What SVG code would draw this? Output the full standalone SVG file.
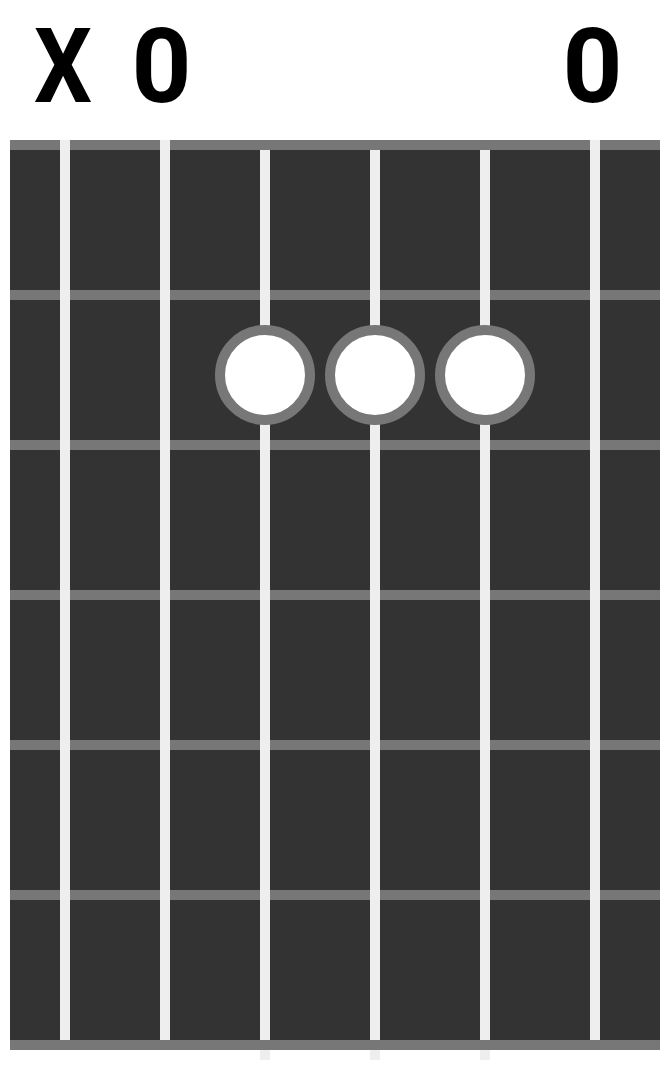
<svg xmlns="http://www.w3.org/2000/svg" width="670" height="1070" viewBox="0 0 670 1070">
<style>
.fret{fill:#777}
.str{fill:#eee}
.dot{fill:#fff;stroke:#777;stroke-width:10}
.lbl{font-family:Roboto,sans-serif;font-weight:bold;font-size:104px;fill:#000;text-anchor:middle}
</style>
<rect width="670" height="1070" fill="#fff"/>
<g id="board">
<rect x="10" y="140" width="650" height="910" fill="#333"/>
</g>
<g id="frets">
<rect class="fret" x="10" y="140" width="650" height="10"/>
<rect class="fret" x="10" y="290" width="650" height="10"/>
<rect class="fret" x="10" y="440" width="650" height="10"/>
<rect class="fret" x="10" y="590" width="650" height="10"/>
<rect class="fret" x="10" y="740" width="650" height="10"/>
<rect class="fret" x="10" y="890" width="650" height="10"/>
</g>
<g id="strings">
<rect class="str" x="60" y="140" width="10" height="900"/>
<rect class="str" x="160" y="140" width="10" height="900"/>
<rect class="str" x="260" y="150" width="10" height="910"/>
<rect class="str" x="370" y="150" width="10" height="910"/>
<rect class="str" x="480" y="150" width="10" height="910"/>
<rect class="str" x="590" y="140" width="10" height="900"/>
</g>
<g id="nut-bottom">
<rect class="fret" x="10" y="1040" width="650" height="10"/>
</g>
<g id="dots">
<circle class="dot" cx="265" cy="375" r="45"/>
<circle class="dot" cx="375" cy="375" r="45"/>
<circle class="dot" cx="485" cy="375" r="45"/>
</g>
<g id="labels">
<text class="lbl" x="63" y="102" textLength="58" lengthAdjust="spacingAndGlyphs">X</text>
<text class="lbl" x="161.5" y="102" textLength="60" lengthAdjust="spacingAndGlyphs">0</text>
<text class="lbl" x="592.5" y="102" textLength="60" lengthAdjust="spacingAndGlyphs">0</text>
</g>
</svg>
